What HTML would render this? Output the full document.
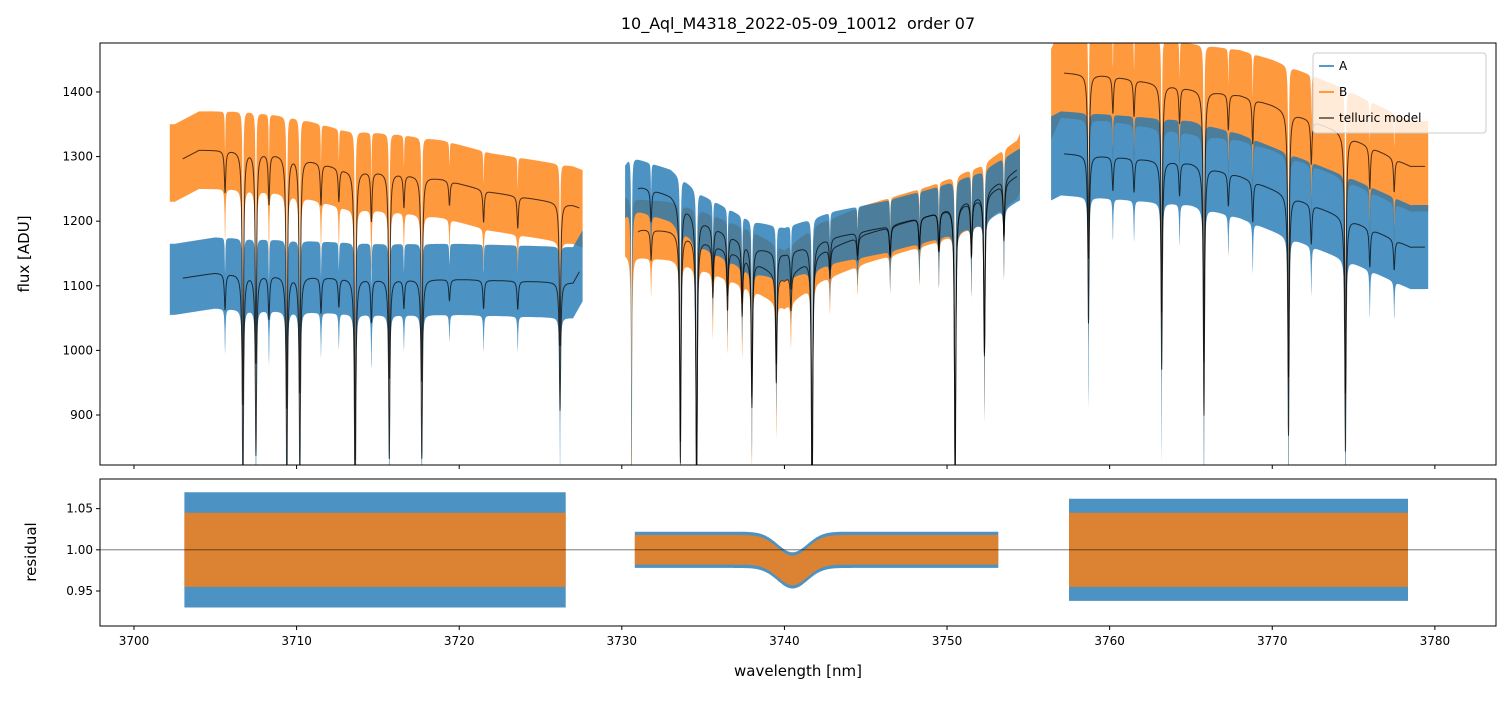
<!DOCTYPE html>
<html><head><meta charset="utf-8">
<style>
body{margin:0;background:#fff;font-family:"Liberation Sans","DejaVu Sans",sans-serif;}
svg text{font-family:"DejaVu Sans","Liberation Sans",sans-serif;}
</style></head>
<body>
<svg id="c" width="1510" height="696" xmlns="http://www.w3.org/2000/svg"></svg>
<script>
// ---- data ----
const segments = [[3702.2,3727.6],[3730.2,3754.5],[3756.4,3779.6]];
const contA = [[3702.5,1110],[3705,1120],[3710,1115],[3715,1110],[3720,1110],[3727,1105],
               [3730.5,1260],[3733,1240],[3735,1200],[3738,1160],[3740,1150],[3743,1175],[3746,1190],[3749,1210],[3752,1235],[3754.3,1270],
               [3757,1305],[3760,1300],[3765,1290],[3768,1270],[3770,1250],[3772,1230],[3775,1200],[3778.5,1160]];
const contB = [[3702.5,1290],[3704,1310],[3707,1310],[3710,1300],[3713,1280],[3716,1275],[3719,1265],[3722,1245],[3727,1225],
               [3730.5,1190],[3733,1185],[3735,1170],[3738,1140],[3740,1110],[3742,1150],[3745,1180],[3749,1210],[3752,1240],[3754.3,1280],
               [3757,1430],[3760,1425],[3765,1405],[3768,1395],[3770,1380],[3774,1340],[3778.5,1285]];
const lines = [[3705.6,0.05],[3706.7,0.3],[3707.5,0.25],[3708.3,0.06],[3709.4,0.3],[3710.2,0.28],[3711.5,0.05],[3712.6,0.04],[3713.6,0.35],[3714.6,0.06],[3715.7,0.25],[3716.6,0.04],[3717.7,0.25],[3719.4,0.03],[3721.5,0.04],[3723.6,0.04],[3726.2,0.18],
  [3730.6,0.3],[3731.8,0.04],[3733.6,0.3],[3734.6,0.35],[3735.6,0.07],[3736.5,0.08],[3737.4,0.08],[3738,0.2],[3739.5,0.15],[3740.4,0.05],[3741.7,0.35],[3742.8,0.04],[3744.5,0.03],[3746.5,0.04],[3748.3,0.04],[3749.5,0.05],[3750.5,0.35],[3751.5,0.07],[3752.3,0.2],[3753.5,0.07],
  [3758.7,0.2],[3760.2,0.04],[3761.5,0.04],[3763.2,0.25],[3764.3,0.04],[3765.8,0.3],[3767.3,0.04],[3768.8,0.05],[3771,0.3],[3772.4,0.05],[3774.5,0.3],[3776,0.05],[3777.5,0.04]];
const noiseA = [55,40,65];
const noiseB = [60,45,70];
const residSegs = [[3703.1,3726.6],[3730.8,3753.2],[3757.5,3778.4]];
const residSpreadA = [0.07,0.022,0.062];
const residSpreadB = [0.045,0.018,0.045];
const residDip = [[3740.5,-0.025,1.3]];
const xTicks = [3700,3710,3720,3730,3740,3750,3760,3770,3780];
const yTicksTop = [900,1000,1100,1200,1300,1400];
const yTicksBot = [0.95,1.00,1.05];

const L=100,R=1496,T1=43,B1=465,T2=479,B2=626;
const X0=3697.91,X1=3783.76,Y0=822.6,Y1=1475.8,R0=0.9075,R1=1.086;
const sx=v=>L+(v-X0)/(X1-X0)*(R-L);
const sy=v=>B1-(v-Y0)/(Y1-Y0)*(B1-T1);
const sr=v=>B2-(v-R0)/(R1-R0)*(B2-T2);
const NS='http://www.w3.org/2000/svg', svg=document.getElementById('c');
function el(t,a,p){const e=document.createElementNS(NS,t);for(const k in a)e.setAttribute(k,a[k]);(p||svg).appendChild(e);return e;}
function interp(kn,idx,x){for(let i=0;i<kn.length-1;i++){if(x>=kn[i][0]&&x<=kn[i+1][0]){const f=(x-kn[i][0])/(kn[i+1][0]-kn[i][0]);return kn[i][idx]+f*(kn[i+1][idx]-kn[i][idx]);}}return x<kn[0][0]?kn[0][idx]:kn[kn.length-1][idx];}
function absorb(x,w){let f=1;for(const [c,d] of lines){const u=(x-c)/w;f*=1-d/(1+u*u);}return f;}
const defs=el('defs',{});
const cp1=el('clipPath',{id:'cp1'},defs);el('rect',{x:L,y:T1,width:R-L,height:B1-T1},cp1);
const cp2=el('clipPath',{id:'cp2'},defs);el('rect',{x:L,y:T2,width:R-L,height:B2-T2},cp2);
const g1=el('g',{'clip-path':'url(#cp1)'});
const g2=el('g',{'clip-path':'url(#cp2)'});

function band(kn,spread,color,name){
  segments.forEach((s,si)=>{
    let up=[],lo=[];
    for(let x=s[0];x<=s[1];x+=0.01){const c=interp(kn,1,x);const mu=c*absorb(x,0.02),ml=c*absorb(x,0.03);
      up.push(sx(x).toFixed(1)+','+sy(mu+spread[si]).toFixed(1));
      lo.push(sx(x).toFixed(1)+','+sy(ml-spread[si]-(1-absorb(x,0.03))*c*0.25).toFixed(1));}
    const p=el('polygon',{points:up.concat(lo.reverse()).join(' '),fill:color,'fill-opacity':0.8},g1);
    
    
  });
}
function modelLine(kn,name){
  segments.forEach((s,si)=>{
    let pts=[];for(let x=s[0]+0.8;x<=s[1]-0.2;x+=0.01)pts.push(sx(x).toFixed(1)+','+sy(interp(kn,1,x)*absorb(x,0.05)).toFixed(1));
    const p=el('polyline',{points:pts.join(' '),fill:'none',stroke:'#000','stroke-opacity':0.7,'stroke-width':1},g1);
    
    
  });
}
band(contB,noiseB,'#ff7f0e','series-b');
band(contA,noiseA,'#1f77b4','series-a');
modelLine(contA,'telluric-model-a');
modelLine(contB,'telluric-model-b');

function rband(spread,color,name){
  residSegs.forEach((s,si)=>{
    let up=[],lo=[];
    for(let x=s[0];x<=s[1];x+=0.05){let d=0;for(const [c,dd,w] of residDip){const u=(x-c)/w;d+=dd*Math.exp(-u*u);}
      up.push(sx(x).toFixed(1)+','+sr(1+d+spread[si]).toFixed(1));lo.push(sx(x).toFixed(1)+','+sr(1+d-spread[si]).toFixed(1));}
    const p=el('polygon',{points:up.concat(lo.reverse()).join(' '),fill:color,'fill-opacity':0.8},g2);
    
    
  });
}
rband(residSpreadA,'#1f77b4','series-a');
rband(residSpreadB,'#ff7f0e','series-b');
el('line',{x1:L,x2:R,y1:sr(1),y2:sr(1),stroke:'#000','stroke-opacity':0.6,'stroke-width':0.8},g2);

const f1=el('rect',{x:L,y:T1,width:R-L,height:B1-T1,fill:'none',stroke:'#000','stroke-width':1});

const f2=el('rect',{x:L,y:T2,width:R-L,height:B2-T2,fill:'none',stroke:'#000','stroke-width':1});

xTicks.forEach(v=>{const x=sx(v);
  el('line',{x1:x,x2:x,y1:B1,y2:B1+4,stroke:'#000'});
  el('line',{x1:x,x2:x,y1:B2,y2:B2+4,stroke:'#000'});
  const t=el('text',{x:x,y:B2+19,'font-size':12,'text-anchor':'middle'});t.textContent=v;
  });
yTicksTop.forEach(v=>{const y=sy(v);el('line',{x1:L-4,x2:L,y1:y,y2:y,stroke:'#000'});
  const t=el('text',{x:L-7,y:y+4,'font-size':12,'text-anchor':'end'});t.textContent=v;
  });
yTicksBot.forEach(v=>{const y=sr(v);el('line',{x1:L-4,x2:L,y1:y,y2:y,stroke:'#000'});
  const t=el('text',{x:L-7,y:y+4,'font-size':12,'text-anchor':'end'});t.textContent=v.toFixed(2);
  });
</script>
<svg style="position:absolute;left:0;top:0" width="1510" height="696" xmlns="http://www.w3.org/2000/svg">
<text x="798" y="29" font-size="16" text-anchor="middle" font-family="DejaVu Sans, sans-serif" xml:space="preserve">10_Aql_M4318_2022-05-09_10012  order 07</text>
<text transform="translate(29,254) rotate(-90)" font-size="15" text-anchor="middle" font-family="DejaVu Sans, sans-serif">flux [ADU]</text>
<text transform="translate(36,552) rotate(-90)" font-size="15" text-anchor="middle" font-family="DejaVu Sans, sans-serif">residual</text>
<text x="798" y="676" font-size="15" text-anchor="middle" font-family="DejaVu Sans, sans-serif">wavelength [nm]</text>
<g font-family="DejaVu Sans, sans-serif" font-size="12">
<rect x="1313" y="53" width="173" height="80" rx="3" fill="#fff" fill-opacity="0.8" stroke="#ccc"/>
<line x1="1319" x2="1334" y1="66" y2="66" stroke="#1f77b4" stroke-width="1.5"/><text x="1339" y="70">A</text>
<line x1="1319" x2="1334" y1="92" y2="92" stroke="#ff7f0e" stroke-width="1.5"/><text x="1339" y="96">B</text>
<line x1="1319" x2="1334" y1="118" y2="118" stroke="#000" stroke-opacity="0.7" stroke-width="1.5"/><text x="1339" y="122">telluric model</text>
</g>
</svg>
</body></html>
